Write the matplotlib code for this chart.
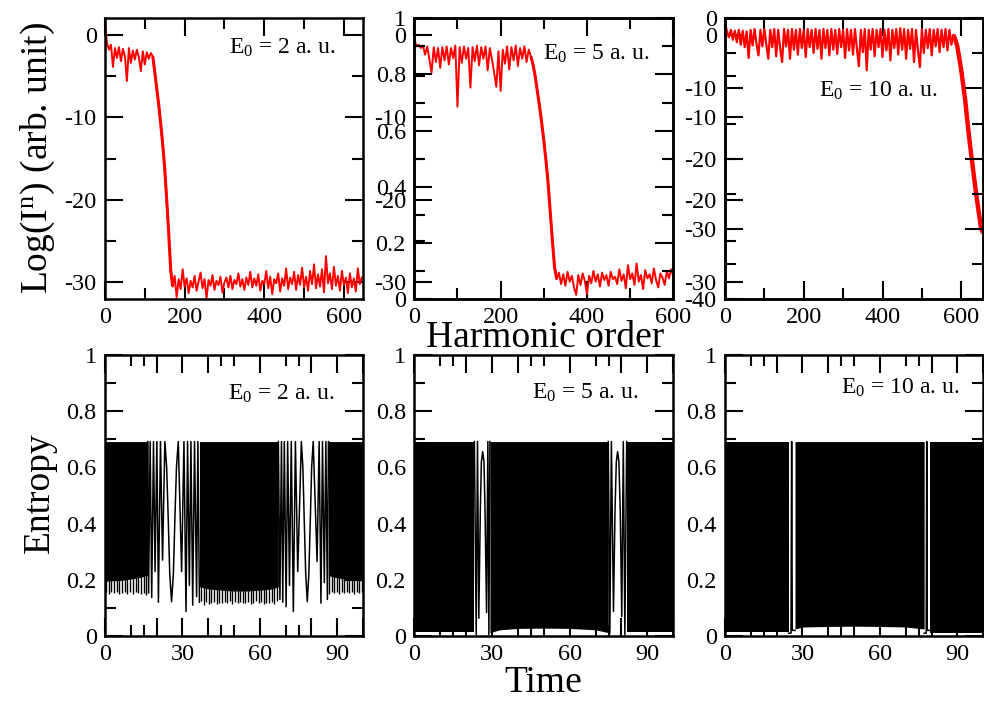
import numpy as np
import matplotlib
matplotlib.use("Agg")
import matplotlib.pyplot as plt

plt.rcParams['font.family'] = ['Liberation Serif', 'DejaVu Serif']
plt.rcParams['mathtext.fontset'] = 'custom'
plt.rcParams['mathtext.rm'] = 'Liberation Serif'
plt.rcParams['mathtext.it'] = 'Liberation Serif:italic'
plt.rcParams['mathtext.bf'] = 'Liberation Serif:bold'
plt.rcParams['axes.unicode_minus'] = False

# ------------------------------------------------------------------ data
harm_step = 5  # harmonic-order spacing of the spectra samples

spec_E2 = [1.5, -1.0, -1.8, -1.2, -3.9, -1.6, -2.8, -1.5, -3.2, -1.7,
           -2.6, -5.6, -1.6, -3.4, -1.9, -3.0, -1.8, -2.7, -4.4, -2.0,
           -3.6, -2.1, -2.9, -2.2, -2.6,
           -4.5, -6.5, -8.5, -10.8, -13.3, -16.2, -20.0, -24.0, -28.5, -30.5,
           -29.2, -31.8, -29.6, -30.8, -28.4, -30.5, -29.5, -31.3, -29.8, -30.6,
           -29.2, -31.0, -29.9, -28.8, -30.7, -29.6, -31.9, -29.7, -30.4, -29.1,
           -30.9, -29.8, -30.3, -29.3, -31.2, -30.0, -29.4, -30.6, -29.2, -30.8,
           -29.7, -30.2, -28.9, -30.5, -29.6, -30.9, -29.4, -30.3, -28.7, -30.6,
           -29.5, -30.4, -29.0, -31.0, -29.8, -30.2, -28.6, -30.7, -29.3, -31.4,
           -29.6, -30.1, -28.9, -31.1, -29.5, -30.4, -28.3, -30.8, -29.4, -30.2,
           -28.7, -30.9, -29.1, -30.3, -28.2, -30.6, -29.3, -31.0, -28.6, -30.2,
           -27.8, -30.7, -29.0, -30.5, -28.4, -31.2, -26.8, -30.1, -28.9, -30.8,
           -28.1, -30.4, -29.2, -31.0, -28.6, -30.3, -29.4, -31.3, -28.9, -30.6,
           -29.5, -31.1, -28.3, -30.2, -29.4]

spec_E5 = [-0.5, -1.4, -1.2, -1.6, -1.3, -2.4, -1.4, -3.0, -4.6, -1.5,
           -3.3, -1.6, -4.0, -1.5, -3.1, -1.4, -3.6, -1.6, -2.8, -1.3,
           -8.7, -1.5, -3.4, -1.4, -2.9, -1.6, -6.4, -1.5, -3.2, -1.3,
           -3.7, -1.5, -2.9, -1.4, -4.3, -1.6, -3.0, -4.6, -6.3, -2.0,
           -6.8, -1.8, -3.5, -1.4, -4.2, -1.5, -3.1, -1.3, -3.8, -1.6,
           -2.9, -1.4, -3.3, -1.8, -2.6, -3.6, -5.0, -6.8, -8.6, -10.6,
           -12.8, -15.2, -18.0, -21.5, -25.0, -28.2, -29.6, -28.8, -30.2, -29.0,
           -30.4, -28.7, -29.9, -29.2, -30.6, -31.5, -29.1, -30.3, -28.9, -29.8,
           -31.4, -29.2, -30.1, -28.6, -29.9, -29.0, -30.5, -28.8, -29.7, -29.1,
           -30.4, -28.7, -29.6, -29.3, -30.2, -28.4, -29.8, -29.0, -30.7, -27.9,
           -29.6, -28.9, -30.3, -27.7, -29.9, -29.1, -30.8, -28.5, -29.5, -29.0,
           -30.1, -28.3, -29.7, -30.6, -28.9, -29.4, -30.3, -28.6, -29.5, -28.4,
           -29.2]

spec_E10 = [1.5, 0.4, -0.3, 0.6, -0.6, 0.5, -0.9, 0.6, -1.2, 0.5,
            -1.5, 0.4, -2.8, 0.6, -1.3, 0.7, -1.1, -2.5, 0.6, -1.4,
            0.7, -1.2, -2.9, 0.6, -1.5, 0.7, -2.6, 0.6, -1.6, -3.3,
            0.7, -1.4, 0.6, -2.9, 0.7, -1.8, 0.6, -2.4, 0.7, -1.6,
            0.6, -2.7, 0.7, -1.5, 0.6, -2.2, 0.7, -1.7, 0.6, -2.9,
            0.7, -1.6, 0.6, -2.5, 0.7, -1.8, 0.6, -2.3, 0.7, -1.5,
            0.6, -2.8, 0.7, -1.9, 0.6, -2.4, 0.7, -1.7, -3.8, 0.6,
            -2.1, 0.7, -4.3, 0.6, -1.8, 0.7, -2.6, 0.6, -1.5, 0.7,
            -2.7, 0.6, -1.9, 0.7, -3.1, 0.6, -1.6, 0.7, -2.4, 0.8,
            -1.8, 0.7, -2.9, 0.6, -1.7, 0.7, -3.3, 0.6, -1.9, -3.9,
            0.7, -2.2, 0.6, -1.6, 0.7, -2.5, 0.6, -1.4, 0.7, -2.1,
            0.6, -1.5, 0.7, -1.9, 0.6, -1.2, 0.0, -0.6, -1.4, -2.8,
            -4.3, -6.1, -7.9, -10.2, -12.4, -14.4, -16.3, -18.2, -20.0, -21.7,
            -23.3, -24.0]

spectra = [spec_E2, spec_E5, spec_E10]
cutoff_range = [(120, 170), (270, 330), (580, 660)]   # fall-off region (harmonic order)
harm_xlim = [648, 600, 656]

field_labels = ["E$_{\\rm 0}$ = 2 a. u.", "E$_{\\rm 0}$ = 5 a. u.", "E$_{\\rm 0}$ = 10 a. u."]

harm_ticks = [0, 200, 400, 600]
harm_ticklabels = ["0", "200", "400", "600"]
log_ticks = [-30, -20, -10, 0]
log_ticklabels = ["-30", "-20", "-10", "0"]
aux5_ticks = [0, 0.2, 0.4, 0.6, 0.8, 1.0]
aux5_ticklabels = ["0", "0.2", "0.4", "0.6", "0.8", "1"]
aux10_ticks = [-40, -30, -20, -10, 0]
aux10_ticklabels = ["-40", "-30", "-20", "-10", "0"]

time_ticks = [0, 30, 60, 90]
time_ticklabels = ["0", "30", "60", "90"]
ent_ticks = [0, 0.2, 0.4, 0.6, 0.8, 1.0]
ent_ticklabels = ["0", "0.2", "0.4", "0.6", "0.8", "1"]

ent_top = 0.692

# E0 = 2: dense oscillation blocks (time, lower edge)
ent2_dense_t = [[0.0, 4.0, 8.0, 12.0, 16.6],
                [36.6, 40.0, 45.0, 50.0, 55.0, 60.0, 65.0, 67.2],
                [86.6, 90.0, 94.0, 97.0, 100.0]]
ent2_dense_low = [[0.195, 0.197, 0.200, 0.206, 0.215],
                  [0.175, 0.168, 0.163, 0.160, 0.160, 0.163, 0.168, 0.175],
                  [0.215, 0.207, 0.201, 0.198, 0.196]]
ent2_sparse_t = [[16.6, 16.9, 17.5, 18.1, 18.8, 19.4, 20.1, 20.7, 21.5, 22.3,
                  23.2, 23.9, 24.5, 25.1, 25.8, 26.5, 27.1, 27.7, 28.4,
                  29.7, 30.6, 31.4, 32.0, 32.7, 33.3, 34.0, 34.7, 35.5, 36.0, 36.6],
                 [67.2, 67.8, 68.4, 68.9, 69.5, 70.2, 70.8, 71.5, 72.2, 73.0, 73.8, 74.7,
                  76.1, 76.7, 77.2, 77.8, 78.4, 79.0, 79.6, 80.1, 80.7,
                  82.2, 83.0, 83.7, 84.3, 85.0, 85.6, 86.2, 86.6]]
ent2_sparse_v = [[0.692, 0.153, 0.692, 0.137, 0.692, 0.229, 0.692, 0.120, 0.692, 0.270,
                  0.692, 0.60, 0.42, 0.22, 0.122, 0.22, 0.42, 0.60, 0.692,
                  0.229, 0.692, 0.087, 0.692, 0.180, 0.692, 0.110, 0.692, 0.140, 0.692, 0.120],
                 [0.692, 0.130, 0.692, 0.120, 0.692, 0.104, 0.692, 0.180, 0.692, 0.087, 0.692, 0.229,
                  0.692, 0.60, 0.42, 0.22, 0.122, 0.22, 0.42, 0.60, 0.692,
                  0.265, 0.692, 0.117, 0.692, 0.190, 0.692, 0.130, 0.692]]
ent2_comb_span = [(0.4, 16.0), (37.2, 66.6), (87.0, 99.6)]
ent2_comb_low = [[0.155, 0.150, 0.157, 0.152, 0.156, 0.149, 0.154, 0.158, 0.151, 0.155,
                  0.150, 0.157, 0.153, 0.149, 0.152, 0.147],
                 [0.125, 0.112, 0.120, 0.115, 0.118, 0.122, 0.114, 0.119, 0.116, 0.121,
                  0.117, 0.123, 0.115, 0.120, 0.118, 0.122, 0.116, 0.119, 0.121, 0.115,
                  0.118, 0.123, 0.117, 0.120, 0.114, 0.119, 0.116, 0.121, 0.113, 0.124],
                 [0.150, 0.155, 0.152, 0.157, 0.151, 0.156, 0.153, 0.158, 0.152, 0.155,
                  0.150, 0.157, 0.154, 0.156]]

# E0 = 5
ent5_dense_t = [[0.0, 23.2], [29.2, 33.0, 40.0, 50.0, 60.0, 70.0, 74.9], [82.0, 100.0]]
ent5_dense_low = [[0.016, 0.016], [0.012, 0.022, 0.027, 0.028, 0.027, 0.022, 0.012], [0.014, 0.014]]
ent5_sparse_t = [[23.2, 23.9, 24.4, 24.9, 25.5, 25.9, 26.4, 26.9, 27.3, 27.9, 28.4, 28.8, 29.2],
                 [74.9, 75.5, 76.1, 76.9, 77.5, 78.0, 78.5, 79.0, 79.5, 80.1, 80.7, 81.3, 82.0]]
ent5_sparse_v = [[0.692, 0.005, 0.692, 0.063, 0.45, 0.62, 0.656, 0.62, 0.45, 0.083, 0.692, 0.005, 0.692],
                 [0.692, 0.010, 0.692, 0.087, 0.45, 0.62, 0.656, 0.62, 0.45, 0.069, 0.692, 0.005, 0.692]]

# E0 = 10
ent10_dense_t = [[0.0, 24.6], [27.1, 30.0, 40.0, 50.0, 60.0, 70.0, 77.1], [79.5, 100.0]]
ent10_dense_low = [[0.015, 0.015], [0.025, 0.032, 0.034, 0.035, 0.034, 0.032, 0.025], [0.012, 0.012]]
ent10_sparse_t = [[24.6, 25.55, 25.8, 26.05, 27.1], [77.1, 77.9, 78.1, 78.3, 79.5]]
ent10_sparse_v = [[0.010, 0.010, 0.692, 0.020, 0.020], [0.010, 0.010, 0.692, 0.020, 0.020]]

entropy_sets = [
    (ent2_dense_t, ent2_dense_low, ent2_sparse_t, ent2_sparse_v, ent2_comb_span, ent2_comb_low),
    (ent5_dense_t, ent5_dense_low, ent5_sparse_t, ent5_sparse_v, [], []),
    (ent10_dense_t, ent10_dense_low, ent10_sparse_t, ent10_sparse_v, [], []),
]

# ------------------------------------------------------------------ layout
W, H = 984, 704
fig = plt.figure(figsize=(W / 100, H / 100), dpi=100)


def box(l, t, r, b):
    return [l / W, 1 - b / H, (r - l) / W, (b - t) / H]


cols = [(105, 363), (414.3, 673.3), (725, 983.3)]
top_row = (18.3, 299)
bot_row = (355, 636)

TICK_FS = 17.5
LABEL_FS = 27
ANN_FS = 17


def style(ax):
    for s in ax.spines.values():
        s.set_linewidth(1.8)
    ax.tick_params(which='both', direction='in', top=True, right=True,
                   labelsize=TICK_FS, width=1.5, pad=6)
    ax.tick_params(which='major', length=13)
    ax.tick_params(which='minor', length=8)


ann_top = [(229.3, 54.0), (543.3, 59.3), (819.3, 96.7)]
ann_bot = [(228.3, 400.0), (531.7, 398.3), (841.0, 393.3)]

# ---- top row: harmonic spectra
for i, (l, r) in enumerate(cols):
    ax = fig.add_axes(box(l, top_row[0], r, top_row[1]))
    y = np.array(spectra[i])
    x = np.arange(len(y)) * harm_step
    ax.plot(x, y, color='#ff0000', lw=1.6 if i == 2 else 1.4)
    a, b = cutoff_range[i]
    m = (x >= a) & (x <= b)
    ax.plot(x[m], y[m], color='#ff0000', lw=3.2 if i == 2 else 2.2,
            solid_capstyle='butt')
    ax.set_xlim(0, harm_xlim[i])
    ax.set_ylim(-32, 2)
    ax.set_xticks(harm_ticks)
    ax.set_xticklabels(harm_ticklabels)
    ax.set_xticks([100, 300, 500], minor=True)
    ax.set_yticks(log_ticks)
    ax.set_yticklabels(log_ticklabels)
    ax.set_yticks([-25, -15, -5], minor=True)
    style(ax)
    if i == 1:
        tw = ax.twinx()
        tw.set_ylim(0, 1)
        tw.set_yticks(aux5_ticks)
        tw.set_yticklabels(aux5_ticklabels)
        tw.set_yticks([0.1, 0.3, 0.5, 0.7, 0.9], minor=True)
    elif i == 2:
        tw = ax.twinx()
        tw.set_ylim(-40, 0)
        tw.set_yticks(aux10_ticks)
        tw.set_yticklabels(aux10_ticklabels)
        tw.set_yticks([-35, -25, -15, -5], minor=True)
    else:
        tw = None
    if tw is not None:
        style(tw)
        tw.yaxis.set_ticks_position('both')
        tw.tick_params(axis='y', which='both', left=True, right=True,
                       labelleft=True, labelright=False)
    px, py = ann_top[i]
    fig.text(px / W, 1 - py / H, field_labels[i], fontsize=ANN_FS,
             ha='left', va='baseline')

# ---- bottom row: entropy
for i, (l, r) in enumerate(cols):
    ax = fig.add_axes(box(l, bot_row[0], r, bot_row[1]))
    dense_t, dense_low, sp_t, sp_v, comb_span, comb_low = entropy_sets[i]
    for t, lo in zip(dense_t, dense_low):
        ax.fill_between(t, lo, ent_top, color='black', lw=0)
    for (a, b), lows in zip(comb_span, comb_low):
        ct = np.linspace(a, b, len(lows))
        ax.vlines(ct, lows, 0.3, color='black', lw=1.0)
    for t, v in zip(sp_t, sp_v):
        ax.plot(t, v, color='black', lw=1.1)
    ax.set_xlim(0, 100)
    ax.set_ylim(0, 1)
    ax.set_xticks([0, 20, 30, 40, 60, 80, 90, 100])
    ax.set_xticklabels(["0", "", "30", "", "60", "", "90", ""])
    ax.set_xticks([10, 15, 45, 50, 70, 75], minor=True)
    ax.set_yticks(ent_ticks)
    ax.set_yticklabels(ent_ticklabels)
    ax.set_yticks([0.1, 0.3, 0.5, 0.7, 0.9], minor=True)
    style(ax)
    px, py = ann_bot[i]
    fig.text(px / W, 1 - py / H, field_labels[i], fontsize=ANN_FS,
             ha='left', va='baseline')

# ---- axis titles
fig.text(47 / W, 1 - 158.5 / H, "Log(I$^{\\rm n}$) (arb. unit)", fontsize=LABEL_FS,
         rotation=90, rotation_mode='anchor', ha='center', va='baseline')
fig.text(49 / W, 1 - 493 / H, "Entropy", fontsize=LABEL_FS,
         rotation=90, rotation_mode='anchor', ha='center', va='baseline')
fig.text(545 / W, 1 - 347 / H, "Harmonic order", fontsize=LABEL_FS,
         ha='center', va='baseline')
fig.text(543 / W, 1 - 692 / H, "Time", fontsize=LABEL_FS,
         ha='center', va='baseline')

fig.savefig("out.png", dpi=100)
